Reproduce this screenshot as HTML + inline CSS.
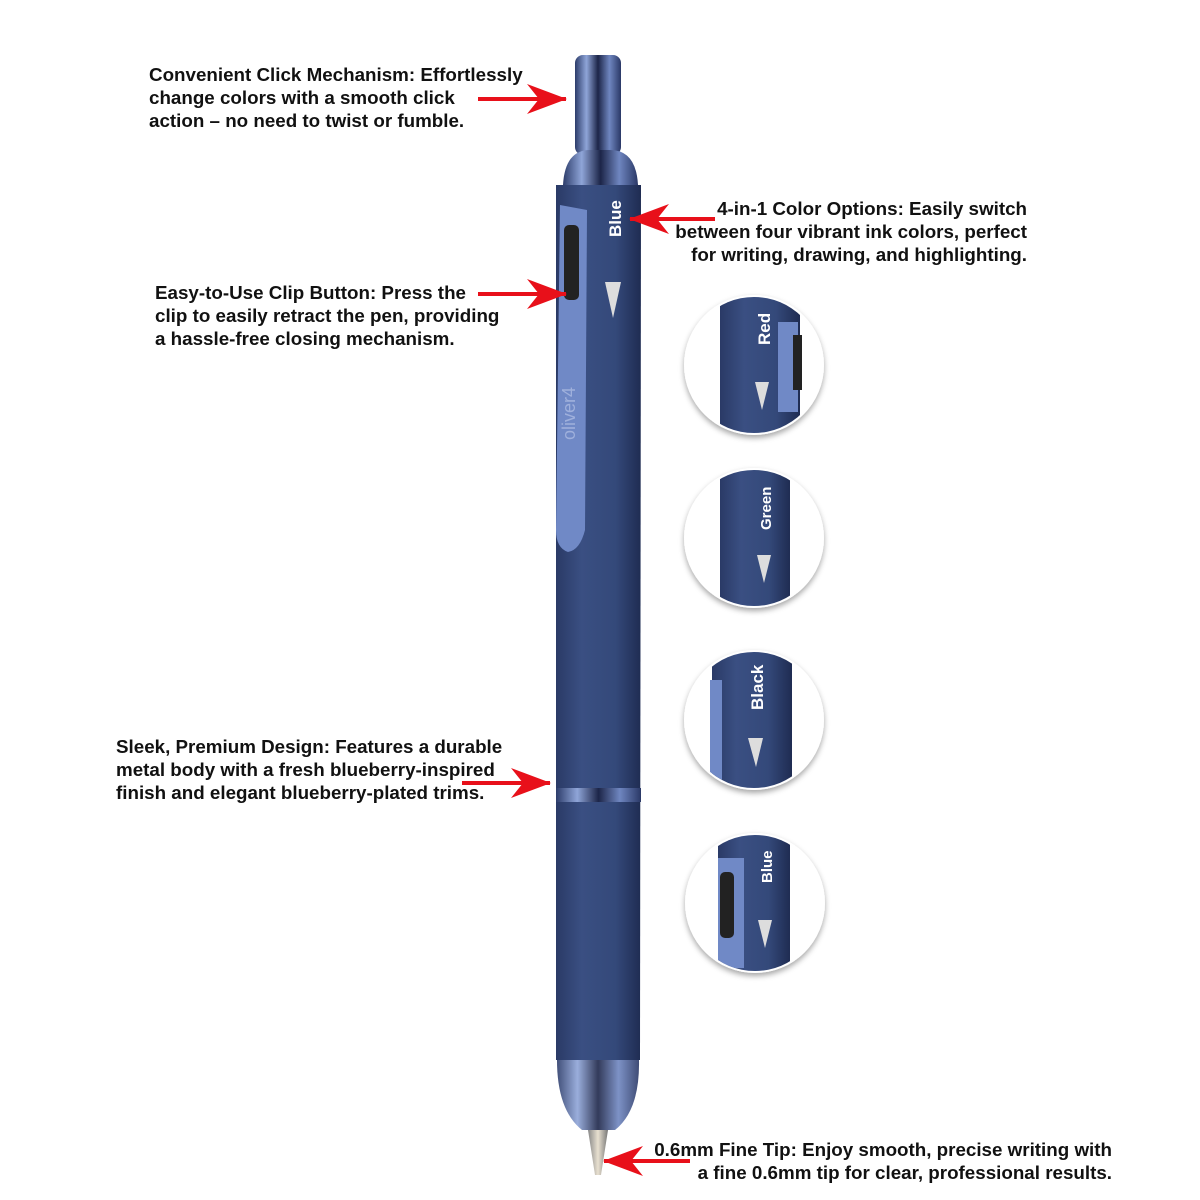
<!DOCTYPE html>
<html><head><meta charset="utf-8"><style>
body{margin:0;background:#fff}
svg{display:block}
text{font-family:"Liberation Sans",sans-serif;font-weight:bold;font-size:18.8px;fill:#111}
.w{fill:#fff;font-size:17px}
</style></head><body>
<svg width="1200" height="1200" viewBox="0 0 1200 1200">
<defs>
<linearGradient id="b" x1="0" x2="1"><stop offset="0" stop-color="#2a3a66"/><stop offset=".3" stop-color="#3a4f82"/><stop offset=".7" stop-color="#34497a"/><stop offset="1" stop-color="#1f2c52"/></linearGradient>
<linearGradient id="m" x1="0" x2="1"><stop offset="0" stop-color="#2c3c6a"/><stop offset=".25" stop-color="#8fa5d8"/><stop offset=".5" stop-color="#1c2548"/><stop offset=".75" stop-color="#6f86c0"/><stop offset="1" stop-color="#2a3866"/></linearGradient>
<linearGradient id="t" x1="0" x2="1"><stop offset="0" stop-color="#888"/><stop offset=".5" stop-color="#e8e0d0"/><stop offset="1" stop-color="#777"/></linearGradient>
<filter id="s"><feDropShadow dx="0" dy="3" stdDeviation="3" flood-opacity=".35"/></filter>
<marker id="a" markerWidth="40" markerHeight="30" refX="39" refY="15" orient="auto" markerUnits="userSpaceOnUse" viewBox="0 0 40 30"><path d="M0,0 L40,15 L0,30 L12,15Z" fill="#e8101a"/></marker>
</defs>
<rect x="575" y="55" width="46" height="100" rx="8" fill="url(#m)"/>
<path d="M563,185 Q565,150 590,150 L610,150 Q636,150 638,185Z" fill="url(#m)"/>
<path d="M556,185 L641,185 L640,1060 L556,1060Z" fill="url(#b)"/>
<rect x="556" y="788" width="85" height="14" fill="url(#m)"/>
<path d="M557,1060 L639,1060 Q640,1110 615,1130 L582,1130 Q557,1110 557,1060Z" fill="url(#m)" opacity=".9"/>
<path d="M588,1130 L608,1130 L601,1175 L595,1175Z" fill="url(#t)"/>
<path d="M560,205 L587,210 L585,530 Q580,550 568,552 Q556,548 556,530Z" fill="#7089c6"/>
<rect x="564" y="225" width="15" height="75" rx="5" fill="#222"/>
<text class="w" transform="translate(621,237) rotate(-90)">Blue</text>
<path d="M605,282 L621,282 L613,318Z" fill="#ddd"/>
<text transform="translate(575,440) rotate(-90)" style="font-weight:normal;font-size:18px;fill:#9fb0dc">oliver4</text>
<g filter="url(#s)">
<circle cx="754" cy="365" r="70" fill="#fff"/>
<circle cx="754" cy="538" r="70" fill="#fff"/>
<circle cx="754" cy="720" r="70" fill="#fff"/>
<circle cx="755" cy="903" r="70" fill="#fff"/>
</g>
<clipPath id="c1"><circle cx="754" cy="365" r="68"/></clipPath>
<clipPath id="c2"><circle cx="754" cy="538" r="68"/></clipPath>
<clipPath id="c3"><circle cx="754" cy="720" r="68"/></clipPath>
<clipPath id="c4"><circle cx="755" cy="903" r="68"/></clipPath>
<g clip-path="url(#c1)"><rect x="720" y="290" width="80" height="150" fill="url(#b)"/><rect x="778" y="322" width="20" height="90" fill="#7089c6"/><rect x="793" y="335" width="9" height="55" fill="#222"/><text class="w" transform="translate(770,345) rotate(-90)">Red</text><path d="M755,382 L769,382 L762,410Z" fill="#ddd"/></g>
<g clip-path="url(#c2)"><rect x="720" y="460" width="70" height="150" fill="url(#b)"/><text class="w" style="font-size:15px" transform="translate(771,530) rotate(-90)">Green</text><path d="M757,555 L771,555 L764,583Z" fill="#ddd"/></g>
<g clip-path="url(#c3)"><rect x="712" y="640" width="80" height="160" fill="url(#b)"/><rect x="710" y="680" width="12" height="100" fill="#7089c6"/><text class="w" transform="translate(763,710) rotate(-90)">Black</text><path d="M748,738 L763,738 L756,767Z" fill="#ddd"/></g>
<g clip-path="url(#c4)"><rect x="718" y="825" width="72" height="160" fill="url(#b)"/><rect x="718" y="858" width="26" height="110" fill="#7089c6"/><rect x="720" y="872" width="14" height="66" rx="5" fill="#222"/><text class="w" style="font-size:15px" transform="translate(772,883) rotate(-90)">Blue</text><path d="M758,920 L772,920 L765,948Z" fill="#ddd"/></g>
<g stroke="#e8101a" stroke-width="4" fill="none">
<line x1="478" y1="99" x2="566" y2="99" marker-end="url(#a)"/>
<line x1="715" y1="219" x2="630" y2="219" marker-end="url(#a)"/>
<line x1="478" y1="294" x2="566" y2="294" marker-end="url(#a)"/>
<line x1="462" y1="783" x2="550" y2="783" marker-end="url(#a)"/>
<line x1="690" y1="1161" x2="604" y2="1161" marker-end="url(#a)"/>
</g>
<text x="149" y="81">Convenient Click Mechanism: Effortlessly</text>
<text x="149" y="104">change colors with a smooth click</text>
<text x="149" y="127">action – no need to twist or fumble.</text>
<g text-anchor="end">
<text x="1027" y="215">4-in-1 Color Options: Easily switch</text>
<text x="1027" y="238">between four vibrant ink colors, perfect</text>
<text x="1027" y="261">for writing, drawing, and highlighting.</text>
<text x="1112" y="1156">0.6mm Fine Tip: Enjoy smooth, precise writing with</text>
<text x="1112" y="1179">a fine 0.6mm tip for clear, professional results.</text>
</g>
<text x="155" y="299">Easy-to-Use Clip Button: Press the</text>
<text x="155" y="322">clip to easily retract the pen, providing</text>
<text x="155" y="345">a hassle-free closing mechanism.</text>
<text x="116" y="753">Sleek, Premium Design: Features a durable</text>
<text x="116" y="776">metal body with a fresh blueberry-inspired</text>
<text x="116" y="799">finish and elegant blueberry-plated trims.</text>
</svg>
</body></html>
